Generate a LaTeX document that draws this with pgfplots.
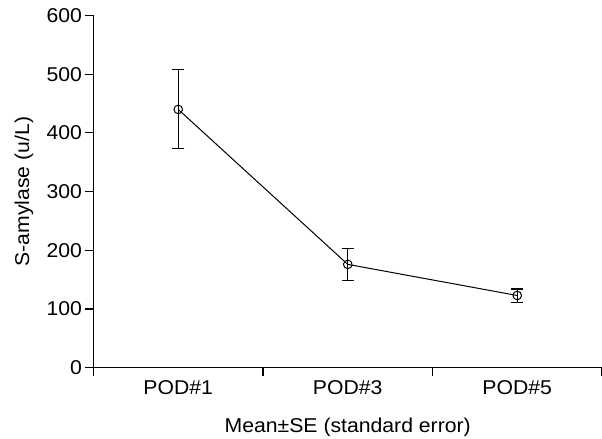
\documentclass[border=0pt]{standalone}
\usepackage{fontspec}
\setmainfont[FakeStretch=1.06]{Liberation Sans}
\usepackage{pgfplots}
\pgfplotsset{compat=1.18}
\usepackage{pgfplotstable}
\pgfplotstableread{
x y eplus eminus
0.5 440 68 67
1.5 176 27 27
2.5 123 11 12
}\datatab
\newcommand{\bigfont}{\fontsize{20bp}{24bp}\selectfont}
\begin{document}
\begin{tikzpicture}
\begin{axis}[
  scale only axis,
  width=508.5bp, height=352.2bp,
  xmin=0, xmax=3, ymin=0, ymax=600,
  axis x line=bottom, axis y line=left,
  axis line style={-, line width=1.1bp},
  every tick/.style={black, line width=1.1bp},
  tick align=outside,
  xtick={0.5,1.5,2.5},
  xticklabels={POD\#1,POD\#3,POD\#5},
  minor xtick={0,1,2,3},
  major tick length=0bp,
  minor tick length=8bp,
  ytick={0,100,...,600},
  extra y ticks={0,100,200,300,400,500,600},
  extra y tick labels={},
  extra y tick style={major tick length=8bp},
  tick label style={font=\bigfont},
  label style={font=\bigfont},
  yticklabel style={xshift=-8bp},
  x tick label style={yshift=-9bp},
  /pgf/number format/assume math mode=true,
  xlabel={Mean\textpm SE (standard error)},
  ylabel={S-amylase (u/L)},
  every axis x label/.style={at={(axis description cs:0.5,0)}, anchor=north, yshift=-47bp, font=\bigfont},
  every axis y label/.style={at={(axis description cs:0,0.5)}, anchor=center, xshift=-69.5bp, rotate=90, font=\bigfont},
  clip=false,
]
\addplot[black, line width=1bp, mark=o, mark size=4.3bp,
  mark options={line width=1bp},
  error bars/.cd, y dir=both, y explicit,
  error mark options={rotate=90, mark size=6bp, line width=1.1bp},
  error bar style={line width=1.1bp}]
  table[x=x, y=y, y error plus=eplus, y error minus=eminus] {\datatab};
\end{axis}
\pgfresetboundingbox
\path[use as bounding box] ([shift={(-93.5bp,-71.3bp)}]current axis.south west) rectangle ([shift={(0bp,15.5bp)}]current axis.north east);
\end{tikzpicture}
\end{document}
